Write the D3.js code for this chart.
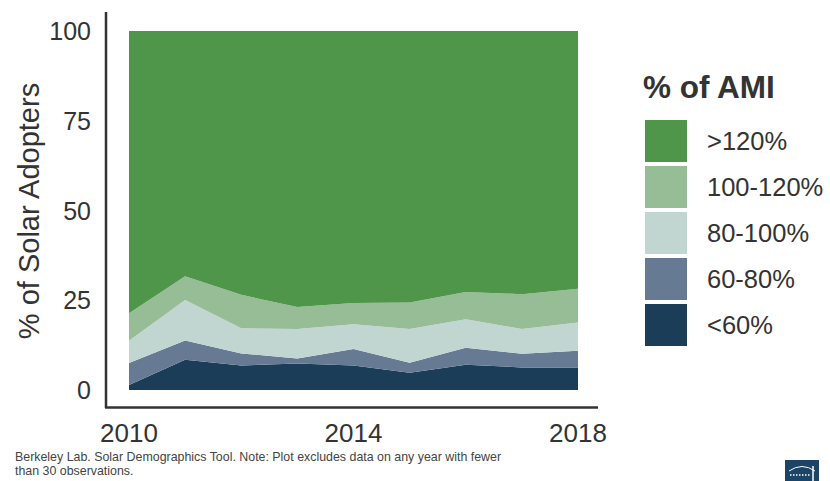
<!DOCTYPE html>
<html>
<head>
<meta charset="utf-8">
<script src="https://cdn.jsdelivr.net/npm/d3@7"></script>
<style>
  html, body { margin: 0; padding: 0; background: #fff; }
  svg { display: block; font-family: "Liberation Sans", Arial, Helvetica, sans-serif; }
</style>
</head>
<body>
<svg id="chart" width="830" height="481"></svg>
<script>
// ---- data ----
const years = [2010, 2011, 2012, 2013, 2014, 2015, 2016, 2017, 2018];
const categories = ["<60%", "60-80%", "80-100%", "100-120%", ">120%"];
const below60   = [1.4, 8.4, 6.8, 7.4, 6.8, 4.8, 7.0, 6.3, 6.3];
const from60to80  = [6.1, 5.4, 3.4, 1.4, 4.6, 2.8, 4.8, 3.8, 4.6];
const from80to100 = [6.2, 11.3, 7.0, 8.2, 6.9, 9.4, 7.9, 6.9, 7.9];
const from100to120 = [7.7, 6.6, 9.3, 6.1, 5.9, 7.4, 7.6, 9.7, 9.4];
const above120  = [78.6, 68.3, 73.5, 76.9, 75.8, 75.6, 72.7, 73.3, 71.8];
const yTicks = [0, 25, 50, 75, 100];
const xTicks = [2010, 2014, 2018];
const legendOrder = [">120%", "100-120%", "80-100%", "60-80%", "<60%"];
const colors = {
  "<60%": "#1c3d57",
  "60-80%": "#667a93",
  "80-100%": "#c2d6d1",
  "100-120%": "#97bd97",
  ">120%": "#4f954a"
};

const seriesValues = {
  "<60%": below60,
  "60-80%": from60to80,
  "80-100%": from80to100,
  "100-120%": from100to120,
  ">120%": above120
};
const table = years.map((yr, i) => {
  const row = { year: yr };
  categories.forEach(c => row[c] = seriesValues[c][i]);
  return row;
});

const svg = d3.select("#chart");
const x = d3.scaleLinear().domain([2010, 2018]).range([129, 578]);
const y = d3.scaleLinear().domain([0, 100]).range([390, 31]);

const stack = d3.stack().keys(categories);
const stacked = stack(table);

const area = d3.area()
  .x(d => x(d.data.year))
  .y0(d => y(d[0]))
  .y1(d => y(d[1]));

svg.append("g").selectAll("path")
  .data(stacked)
  .join("path")
  .attr("d", area)
  .attr("fill", d => colors[d.key]);

// axes
const textColor = "#333333";
svg.append("line")
  .attr("x1", 106).attr("x2", 106).attr("y1", 12).attr("y2", 408)
  .attr("stroke", "#333").attr("stroke-width", 2.5);
svg.append("line")
  .attr("x1", 105).attr("x2", 598).attr("y1", 407.5).attr("y2", 407.5)
  .attr("stroke", "#333").attr("stroke-width", 2.5);

svg.append("g").selectAll("text")
  .data(yTicks).join("text")
  .attr("x", 91)
  .attr("y", d => y(d))
  .attr("dy", "0.36em")
  .attr("text-anchor", "end")
  .attr("font-size", 25)
  .attr("fill", textColor)
  .text(d => d);

svg.append("g").selectAll("text")
  .data(xTicks).join("text")
  .attr("x", d => x(d))
  .attr("y", 442)
  .attr("text-anchor", "middle")
  .attr("font-size", 26)
  .attr("fill", textColor)
  .text(d => d);

svg.append("text")
  .attr("transform", "translate(39,211) rotate(-90)")
  .attr("text-anchor", "middle")
  .attr("font-size", 29)
  .attr("fill", textColor)
  .text("% of Solar Adopters");

// legend
svg.append("text")
  .attr("x", 643).attr("y", 98)
  .attr("font-size", 31.5).attr("font-weight", "bold")
  .attr("fill", textColor)
  .text("% of AMI");

const lg = svg.append("g").selectAll("g")
  .data(legendOrder).join("g")
  .attr("transform", (d, i) => `translate(645,${120 + i * 46})`);
lg.append("rect")
  .attr("width", 42).attr("height", 42)
  .attr("fill", d => colors[d]);
lg.append("text")
  .attr("x", 62).attr("y", 21).attr("dy", "0.36em")
  .attr("font-size", 25.5).attr("fill", textColor)
  .text(d => d);

// caption
const cap = svg.append("text")
  .attr("x", 15).attr("y", 461)
  .attr("font-size", 12.4).attr("fill", "#444");
cap.append("tspan").attr("x", 15).text("Berkeley Lab. Solar Demographics Tool. Note: Plot excludes data on any year with fewer");
cap.append("tspan").attr("x", 15).attr("dy", 14).text("than 30 observations.");

// small logo
const logo = svg.append("g").attr("transform", "translate(785,460)");
logo.append("rect").attr("width", 34).attr("height", 22).attr("fill", "#1c4466");
logo.append("path").attr("d", "M4,11 Q17,2 30,11").attr("fill", "none").attr("stroke", "#fff").attr("stroke-width", 1);
logo.append("line").attr("x1", 5).attr("x2", 25).attr("y1", 15).attr("y2", 15)
  .attr("stroke", "#fff").attr("stroke-width", 1.5).attr("stroke-dasharray", "1.5,1.5");
logo.append("line").attr("x1", 28).attr("x2", 28).attr("y1", 6).attr("y2", 21)
  .attr("stroke", "#fff").attr("stroke-width", 1.5);
</script>
</body>
</html>
